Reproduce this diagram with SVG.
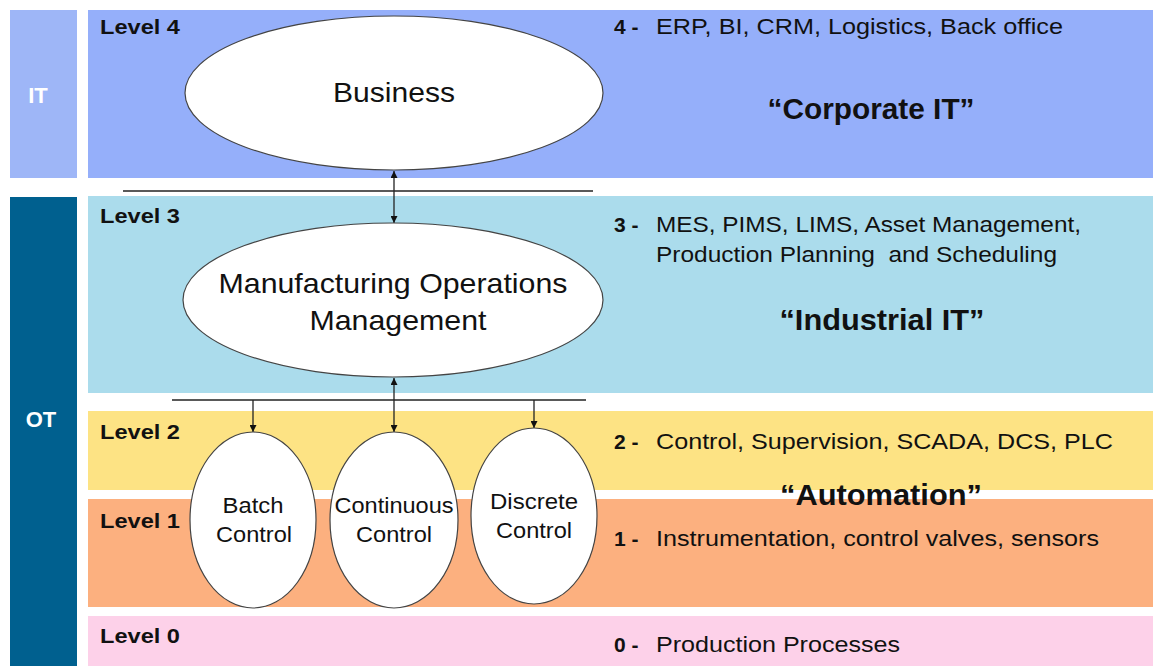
<svg xmlns="http://www.w3.org/2000/svg" width="1153" height="666" viewBox="0 0 1153 666">
<defs>
<marker id="ah" viewBox="0 0 10 10" refX="10" refY="5" markerWidth="7" markerHeight="7" markerUnits="userSpaceOnUse" orient="auto-start-reverse">
<path d="M0,0 L10,5 L0,10 z" fill="#111"/>
</marker>
<style>
text{font-family:"Liberation Sans",Arial,sans-serif;fill:#111}
.lvl{font-size:20px;font-weight:bold}
.side{font-size:22px;font-weight:bold;fill:#fff}
.desc{font-size:22px}
.num{font-size:21px;font-weight:bold}
.quote{font-size:29px;font-weight:bold;text-anchor:middle}
.node ellipse{fill:#fff;stroke:#444;stroke-width:1.2}
.lbl{font-size:28px;text-anchor:middle}
.sml{font-size:22px;text-anchor:middle}
.con line{stroke:#222;stroke-width:1.3}
</style>
</defs>
<rect width="1153" height="666" fill="#fff"/>
<g id="bands">
<rect x="10" y="10" width="67" height="168" fill="#9EB6F7"/>
<rect x="10" y="197" width="67" height="469" fill="#00608F"/>
<rect x="88" y="10" width="1065" height="168" fill="#95AFFA"/>
<rect x="88" y="196" width="1065" height="197" fill="#ABDCEC"/>
<rect x="88" y="411" width="1065" height="79" fill="#FDE384"/>
<rect x="88" y="499" width="1065" height="108" fill="#FCB07F"/>
<rect x="88" y="616" width="1065" height="50" fill="#FDD1E9"/>
<text class="side" x="38" y="103" text-anchor="middle">IT</text>
<text class="side" x="41" y="427" text-anchor="middle">OT</text>
<text class="lvl" x="100" y="34" textLength="80" lengthAdjust="spacingAndGlyphs">Level 4</text>
<text class="lvl" x="100" y="223" textLength="80" lengthAdjust="spacingAndGlyphs">Level 3</text>
<text class="lvl" x="100" y="439" textLength="80" lengthAdjust="spacingAndGlyphs">Level 2</text>
<text class="lvl" x="100" y="528" textLength="80" lengthAdjust="spacingAndGlyphs">Level 1</text>
<text class="lvl" x="100" y="643" textLength="80" lengthAdjust="spacingAndGlyphs">Level 0</text>
<text class="num" x="614" y="34">4 -</text>
<text class="desc" x="656" y="34" textLength="407" lengthAdjust="spacingAndGlyphs">ERP, BI, CRM, Logistics, Back office</text>
<text class="quote" x="871" y="119" textLength="207" lengthAdjust="spacingAndGlyphs">“Corporate IT”</text>
<text class="num" x="614" y="232">3 -</text>
<text class="desc" x="656" y="232" textLength="425" lengthAdjust="spacingAndGlyphs">MES, PIMS, LIMS, Asset Management,</text>
<text class="desc" x="656" y="262" textLength="401" lengthAdjust="spacingAndGlyphs" xml:space="preserve">Production Planning  and Scheduling</text>
<text class="quote" x="882" y="330" textLength="205" lengthAdjust="spacingAndGlyphs">“Industrial IT”</text>
<text class="num" x="614" y="449">2 -</text>
<text class="desc" x="656" y="449" textLength="457" lengthAdjust="spacingAndGlyphs">Control, Supervision, SCADA, DCS, PLC</text>
<text class="quote" x="881" y="505" textLength="202" lengthAdjust="spacingAndGlyphs">“Automation”</text>
<text class="num" x="614" y="546">1 -</text>
<text class="desc" x="656" y="546" textLength="443" lengthAdjust="spacingAndGlyphs">Instrumentation, control valves, sensors</text>
<text class="num" x="614" y="652">0 -</text>
<text class="desc" x="656" y="652" textLength="244" lengthAdjust="spacingAndGlyphs">Production Processes</text>
</g>
<g id="connectors" class="con">
<line x1="123" y1="191" x2="593" y2="191"/>
<line x1="394" y1="171" x2="394" y2="223" marker-start="url(#ah)" marker-end="url(#ah)"/>
<line x1="172" y1="400" x2="586" y2="400"/>
<line x1="394" y1="378" x2="394" y2="432" marker-start="url(#ah)" marker-end="url(#ah)"/>
<line x1="253" y1="400" x2="253" y2="432" marker-end="url(#ah)"/>
<line x1="534" y1="400" x2="534" y2="428" marker-end="url(#ah)"/>
</g>
<g id="business" class="node">
<ellipse cx="394" cy="93" rx="209" ry="77"/>
<text class="lbl" x="394" y="102" textLength="122" lengthAdjust="spacingAndGlyphs">Business</text>
</g>
<g id="mom" class="node">
<ellipse cx="393" cy="300" rx="210" ry="77"/>
<text class="lbl" x="393" y="293" textLength="349" lengthAdjust="spacingAndGlyphs">Manufacturing Operations</text>
<text class="lbl" x="398" y="330" textLength="177" lengthAdjust="spacingAndGlyphs">Management</text>
</g>
<g id="batch" class="node">
<ellipse cx="253" cy="520" rx="63" ry="88"/>
<text class="sml" x="253" y="513" textLength="61" lengthAdjust="spacingAndGlyphs">Batch</text>
<text class="sml" x="254" y="542" textLength="76" lengthAdjust="spacingAndGlyphs">Control</text>
</g>
<g id="continuous" class="node">
<ellipse cx="394" cy="520" rx="64" ry="88"/>
<text class="sml" x="394" y="513" textLength="119" lengthAdjust="spacingAndGlyphs">Continuous</text>
<text class="sml" x="394" y="542" textLength="76" lengthAdjust="spacingAndGlyphs">Control</text>
</g>
<g id="discrete" class="node">
<ellipse cx="534" cy="516" rx="63" ry="88"/>
<text class="sml" x="534" y="509" textLength="88" lengthAdjust="spacingAndGlyphs">Discrete</text>
<text class="sml" x="534" y="538" textLength="76" lengthAdjust="spacingAndGlyphs">Control</text>
</g>
</svg>
